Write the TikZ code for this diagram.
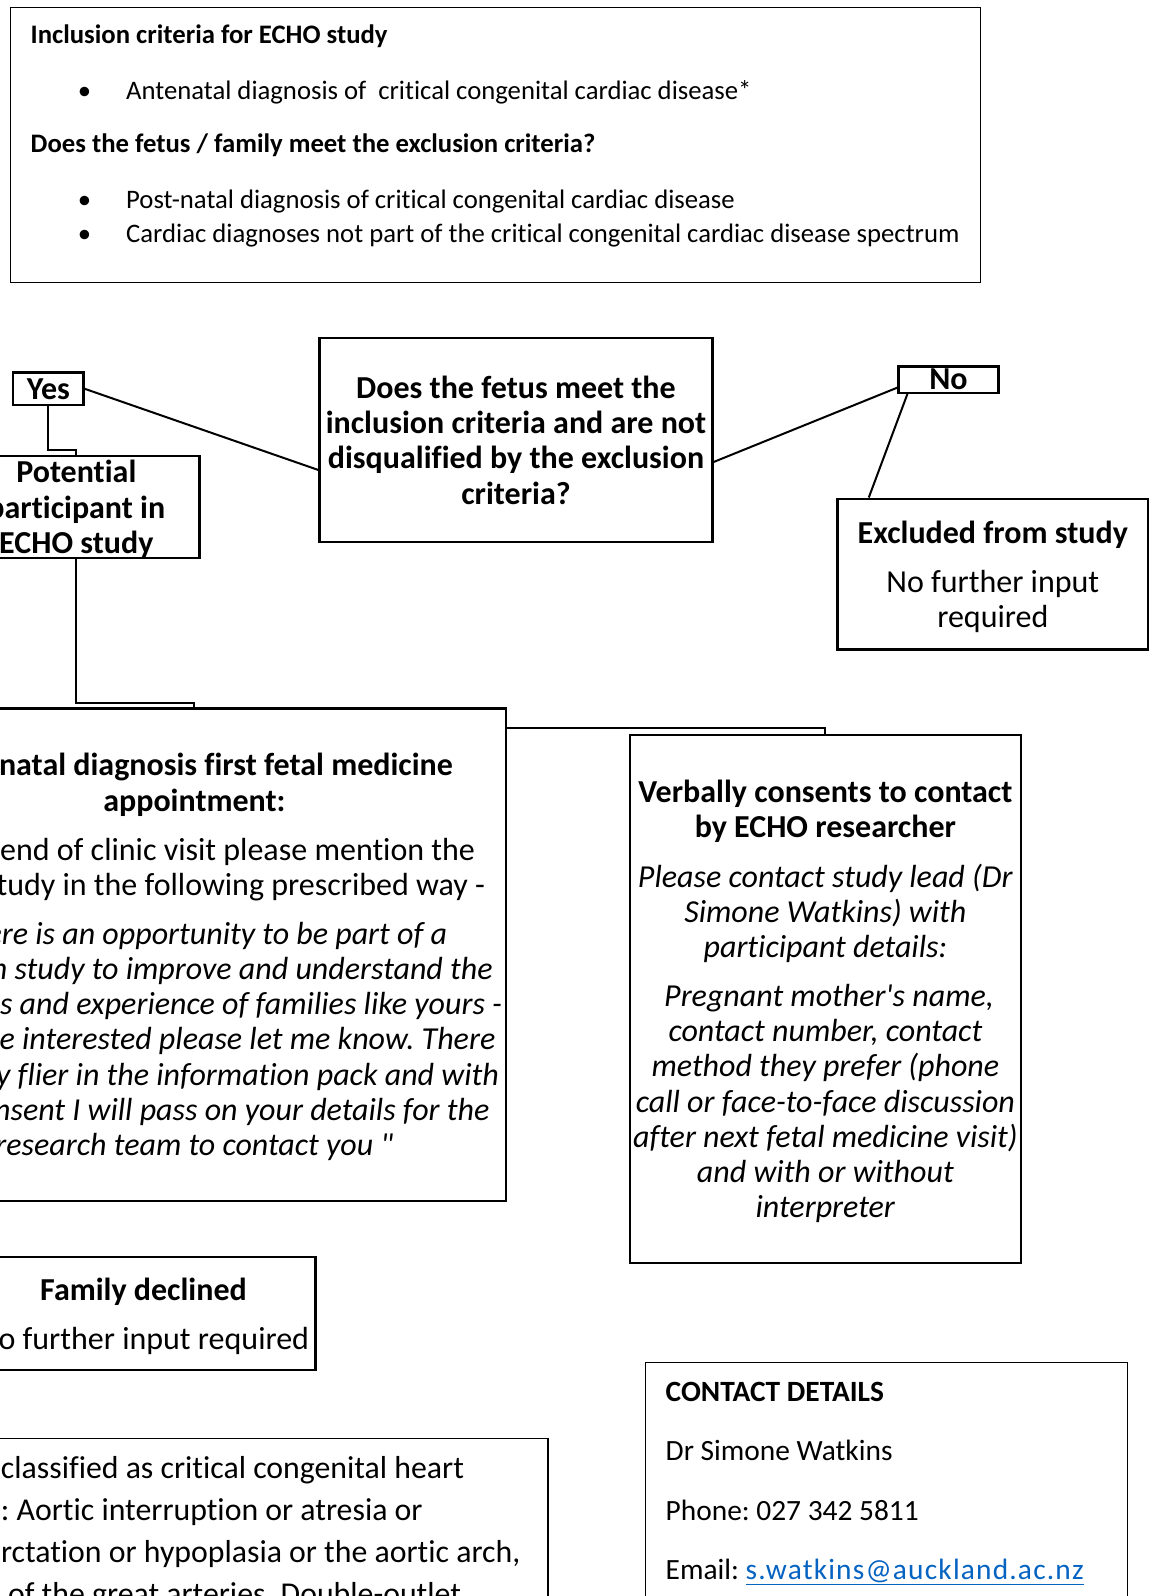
\documentclass[tikz,border=0pt]{standalone}
\usepackage{fontspec}
\setmainfont{Carlito}[Ligatures=NoCommon]
\usetikzlibrary{positioning}
\definecolor{linkblue}{RGB}{5,99,193}
\newcommand{\panelfont}{\fontsize{26.7}{32}\selectfont}
\newcommand{\flowfont}{\fontsize{32}{35.25}\selectfont}
\newcommand{\notefont}{\fontsize{31.8}{42}\selectfont}
\newcommand{\contactfont}{\fontsize{29.4}{35}\selectfont}
\tikzset{
  flowbox/.style={draw, line width=2.4pt, inner sep=0pt, text depth=0pt, align=center, font=\flowfont},
  boldbox/.style={flowbox, font=\flowfont\bfseries},
  panel/.style={draw, line width=1.3pt, inner sep=0pt},
  paneltext/.style={anchor=base west, inner sep=0pt, font=\panelfont},
  contacttext/.style={anchor=base west, inner sep=0pt, font=\contactfont},
  link/.style={line width=2pt},
}

\begin{document}
\frenchspacing
\begin{tikzpicture}[x=1pt,y=-1pt]
  \fill[white] (0,0) rectangle (1149,1596);
  \useasboundingbox (0,0) rectangle (1149,1596);

  % criteria panel
  \node[panel, anchor=north west, minimum width=970pt, minimum height=275pt] (criteria) at (10,7) {};
  \node[paneltext, font=\panelfont\bfseries] (inctitle) at (30.5,43) {Inclusion criteria for ECHO study};
  \node[paneltext, anchor=base] (bul1) at (84.5,99) {\textbullet};
  \node[paneltext] (incitem) at (126,99) {Antenatal diagnosis of \ critical congenital cardiac disease*};
  \node[paneltext, font=\panelfont\bfseries] (exctitle) at (30.5,152) {Does the fetus / family meet the exclusion criteria?};
  \node[paneltext, anchor=base] (bul2) at (84.5,208) {\textbullet};
  \node[paneltext] (excitem1) at (126,208) {Post-natal diagnosis of critical congenital cardiac disease};
  \node[paneltext, anchor=base] (bul3) at (84.5,242.4) {\textbullet};
  \node[paneltext] (excitem2) at (126,242.4) {Cardiac diagnoses not part of the critical congenital cardiac disease spectrum};

  % decision
  \node[boldbox, minimum width=392.8pt, minimum height=203.5pt] (question) at (516,440)
    {Does the fetus meet the\\inclusion criteria and are not\\disqualified by the exclusion\\criteria?};
  \node[boldbox, minimum width=70.3pt, minimum height=32.5pt] (yes) at (48.4,388.8) {Yes};
  \node[boldbox, minimum width=99.8pt, minimum height=26.4pt] (no) at (948.5,379.6) {No};
  \node[boldbox, minimum width=246.5pt, minimum height=101.7pt] (potential) at (76.3,506.9)
    {Potential\\participant in\\ECHO study};
  \node[flowbox, minimum width=310.4pt, minimum height=150.6pt] (excluded) at (992.8,574)
    {\textbf{Excluded from study}\\[13.7pt]No further input\\required};

  % first appointment
  \node[flowbox, minimum width=622.8pt, minimum height=492.6pt] (antenatal) at (194.4,954.6)
    {\textbf{Antenatal diagnosis first fetal medicine}\\
     \textbf{appointment:}\\[13.6pt]
     At the end of clinic visit please mention the\\
     ECHO study in the following prescribed way -\\[13.6pt]
     \textit{\textquotedbl There is an opportunity to be part of a}\\
     \textit{research study to improve and understand the}\\
     \textit{outcomes and experience of families like yours -}\\
     \textit{if you are interested please let me know. There}\\
     \textit{is a study flier in the information pack and with}\\
     \textit{your consent I will pass on your details for the}\\
     \textit{research team to contact you \textquotedbl}};
  \node[flowbox, minimum width=390.8pt, minimum height=528.2pt] (consent) at (825.4,998.9)
    {\textbf{Verbally consents to contact}\\
     \textbf{by ECHO researcher}\\[14pt]
     \textit{Please contact study lead (Dr}\\
     \textit{Simone Watkins) with}\\
     \textit{participant details:}\\[13.5pt]
     \textit{\ Pregnant mother\textquotesingle s name,}\\
     \textit{contact number, contact}\\
     \textit{method they prefer (phone}\\
     \textit{call or face-to-face discussion}\\
     \textit{after next fetal medicine visit)}\\
     \textit{and with or without}\\
     \textit{interpreter}};
  \node[flowbox, minimum width=344pt, minimum height=113pt] (declined) at (143.5,1313.6)
    {\textbf{Family declined}\\[13.9pt]No further input required};

  % footnote and contact panels
  \node[panel, anchor=north east, minimum width=700pt, minimum height=300pt] (note) at (548.5,1437.5) {};
  \node[anchor=base west, inner sep=0pt, align=left, font=\notefont] (notetext) at (0.8,1604)
    {\llap{*Lesions }classified as critical congenital heart\\
     \llap{disease}: Aortic interruption or atresia or\\
     \llap{coa}rctation or hypoplasia or the aortic arch,\\
     \llap{Transposition} of the great arteries. Double-outlet};
  \node[panel, anchor=north west, minimum width=482pt, minimum height=300pt] (contact) at (645,1361.7) {};
  \node[contacttext, font=\contactfont\bfseries] (ctitle) at (665.5,1401) {CONTACT DETAILS};
  \node[contacttext] (cname) at (665.5,1460.5) {Dr Simone Watkins};
  \node[contacttext] (cphone) at (665.5,1520) {Phone: 027 342 5811};
  \node[contacttext] (cmail) at (665.5,1579.5)
    {Email: {\addfontfeatures{LetterSpace=4}\color{linkblue}\underline{s.watkins@auckland.ac.nz}}};

  % connectors
  \draw[link] (yes.east) -- ([yshift=-30pt]question.west);
  \draw[link] ([yshift=-22pt]question.east) -- ([yshift=-8pt]no.west);
  \draw[link] ([xshift=10pt]no.south west) -- ([xshift=32.4pt]excluded.north west);
  \draw[link] (yes.south) -- ++(0,44) -| (potential.north);
  \draw[link] (potential.south) -- ++(0,144.5) -| (antenatal.north);
  \draw[link] ([yshift=-20.4pt]antenatal.north east) -| (consent.north);
\end{tikzpicture}
\end{document}
